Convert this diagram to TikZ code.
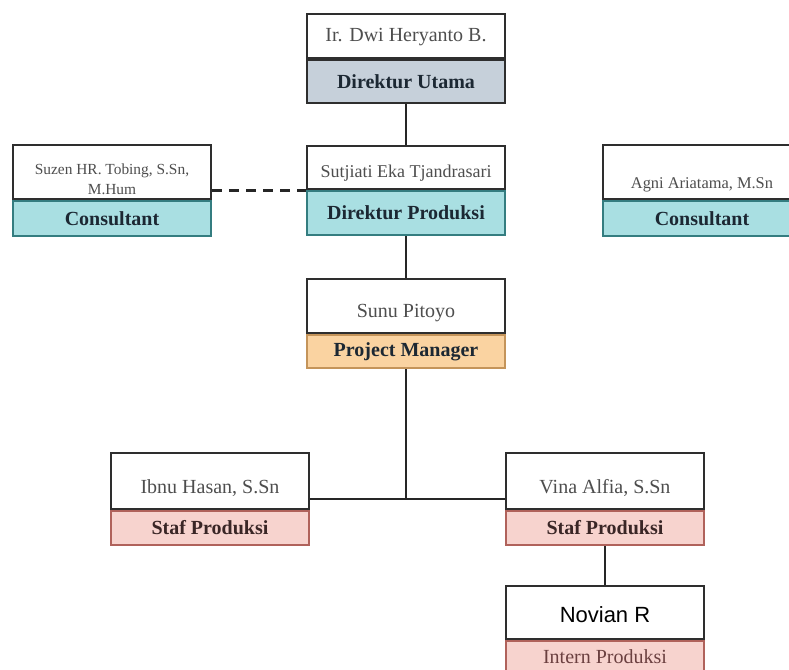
\documentclass[tikz,border=0pt]{standalone}
\usepackage{fontspec}
\setmainfont{Liberation Serif}
\newfontfamily\novianfont{Liberation Sans}
\usetikzlibrary{positioning, calc}

\definecolor{edgeDark}{HTML}{2E2E2E}
\definecolor{nameGray}{HTML}{4E4E4E}
\definecolor{roleInk}{HTML}{1C2833}
\definecolor{utamaFill}{HTML}{C6D0DA}
\definecolor{tealFill}{HTML}{A9DFE2}
\definecolor{tealEdge}{HTML}{347D80}
\definecolor{pmFill}{HTML}{FAD3A1}
\definecolor{pmEdge}{HTML}{C4945A}
\definecolor{stafFill}{HTML}{F7D3CE}
\definecolor{stafEdge}{HTML}{B0625B}
\definecolor{stafInk}{HTML}{3A2626}
\definecolor{internInk}{HTML}{6B4040}

\begin{document}
\begin{tikzpicture}[x=0.5pt, y=-0.5pt,
  namebox/.style={draw=edgeDark, fill=white, line width=1pt, minimum width=99pt,
    inner sep=0pt, anchor=north west, text=nameGray,
    font=\fontsize{10}{11}\selectfont},
  rolebox/.style={line width=1pt, minimum width=99pt, inner sep=0pt, text=roleInk,
    font=\bfseries\fontsize{10}{11}\selectfont},
  utamarole/.style={rolebox, draw=edgeDark, fill=utamaFill, minimum height=21.5pt},
  tealrole/.style={rolebox, draw=tealEdge, fill=tealFill},
  pmrole/.style={rolebox, draw=pmEdge, fill=pmFill, minimum height=16.5pt},
  stafrole/.style={rolebox, draw=stafEdge, fill=stafFill, text=stafInk, minimum height=17pt},
  link/.style={draw=black!85, line width=1pt}]
\useasboundingbox (0,0) rectangle (789,670);

% direktur utama
\node[namebox, text height=13.5pt, text depth=8.5pt] (utama) at (306,13) {Ir. Dwi Heryanto B.};
\node[utamarole, below=0pt of utama] (utamaRole) {Direktur Utama};

% direktur produksi + consultants
\node[namebox, text height=15.5pt, text depth=6pt, font=\fontsize{9}{10}\selectfont] (prod) at (306,145) {Sutjiati Eka Tjandrasari};
\node[tealrole, minimum height=22pt, below=0pt of prod] (prodRole) {Direktur Produksi};

\node[namebox, text height=24.5pt, text depth=2.5pt, font=\fontsize{7.7}{8.6}\selectfont] (suzen) at (12,144) {\shortstack{Suzen HR. Tobing, S.Sn,\\M.Hum}};
\node[tealrole, minimum height=17.5pt, below=0pt of suzen] (suzenRole) {Consultant};

\node[namebox, text height=21.5pt, text depth=5.5pt, font=\fontsize{8.2}{9}\selectfont] (agni) at (602,144) {Agni Ariatama, M.Sn};
\node[tealrole, minimum height=17.5pt, below=0pt of agni] (agniRole) {Consultant};

% project manager
\node[namebox, text height=19pt, text depth=8pt] (pm) at (306,278) {Sunu Pitoyo};
\node[pmrole, below=0pt of pm] (pmRole) {Project Manager};

% staf
\node[namebox, text height=20pt, text depth=8pt] (ibnu) at (110,452) {Ibnu Hasan, S.Sn};
\node[stafrole, below=0pt of ibnu] (ibnuRole) {Staf Produksi};

\node[namebox, text height=20pt, text depth=8pt] (vina) at (505,452) {Vina Alfia, S.Sn};
\node[stafrole, below=0pt of vina] (vinaRole) {Staf Produksi};

% intern
\node[namebox, text height=18pt, text depth=8.5pt, text=black, font=\novianfont\fontsize{11}{12}\selectfont] (novian) at (505,585) {Novian R};
\node[stafrole, minimum height=15.5pt, text=internInk, font=\fontsize{10}{11}\selectfont, below=0pt of novian] (novianRole) {Intern Produksi};

\coordinate (suzenMid) at ($(suzen.north east)!0.5!(suzenRole.south east)$);
\coordinate (prodMid) at ($(prod.north west)!0.5!(prodRole.south west)$);
\coordinate (ibnuMid) at ($(ibnu.north east)!0.5!(ibnuRole.south east)$);
\coordinate (vinaMid) at ($(vina.north west)!0.5!(vinaRole.south west)$);

\draw[link] (utamaRole.south) -- (prod.north);
\draw[link] (prodRole.south) -- (pm.north);
\draw[link, line width=1.4pt, dash pattern=on 5pt off 3.5pt] (suzenMid) -- (prodMid);
\draw[link] (pmRole.south) -- (pmRole.south |- ibnuMid);
\draw[link] (ibnuMid) -- (vinaMid);
\draw[link] (vinaRole.south) -- (novian.north);
\end{tikzpicture}
\end{document}
